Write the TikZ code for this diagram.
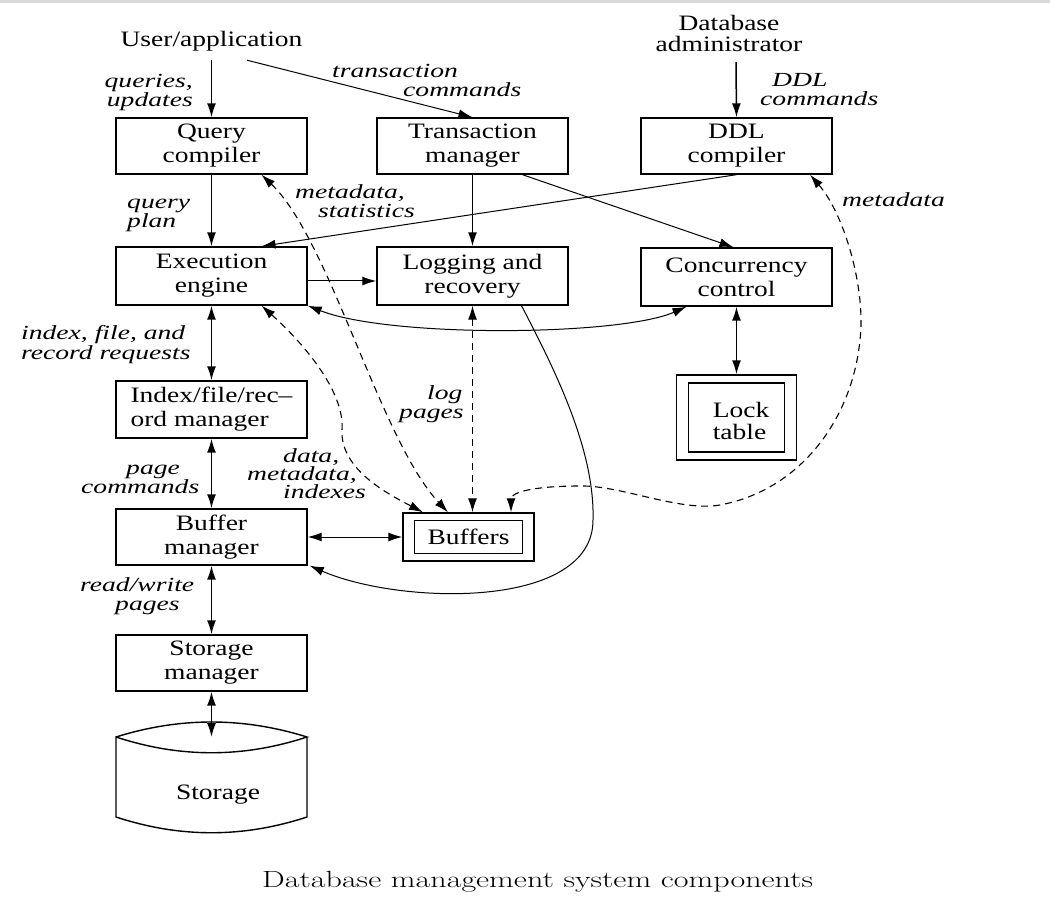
\documentclass[tikz,border=0pt]{standalone}
\usepackage{fontspec}
\setmainfont{Liberation Serif}[FakeStretch=1.25]
\newfontfamily\lblfamily{Liberation Serif}[FakeStretch=1.38]
\usepackage{graphicx}
\usetikzlibrary{arrows.meta}
\newcommand\bxfont{\fontsize{22}{24}\selectfont}
\newcommand\lbfont{\lblfamily\fontsize{20}{18}\selectfont\itshape}
\newcommand\capfont{\fontsize{23.4}{28}\fontfamily{lmr}\selectfont}

\begin{document}
\begin{tikzpicture}[x=1pt,y=-1pt,
  box/.style={draw, line width=1.4pt, minimum width=191pt, minimum height=56pt,
              inner sep=0pt, align=center, font=\bxfont},
  frame/.style={draw, line width=1.4pt},
  txt/.style={inner sep=0pt, align=center, font=\bxfont},
  lbl/.style={inner sep=0pt, font=\lbfont},
  onehead/.style={-{Latex[length=14pt,width=9pt]}},
  twohead/.style={{Latex[length=14pt,width=9pt]}-{Latex[length=14pt,width=9pt]}},
  heavy/.style={line width=1.5pt},
  fine/.style={line width=1pt},
  dsh/.style={dash pattern=on 7pt off 5pt, line width=1.1pt},
]
\useasboundingbox (0,0) rectangle (1050,904);
\fill[black!15] (0,0) rectangle (1050,3);

% actors
\node[txt, minimum height=38pt] (ua) at (211.5,41) {User/application};
\node[txt, font=\fontsize{22}{21}\selectfont, minimum height=58pt] (dba) at (729,33) {Database\\administrator};

% components
\node[box] (qc)  at (211.5,146) {Query\\compiler};
\node[box] (tm)  at (472.5,146) {Transaction\\manager};
\node[box] (ddl) at (736.5,146) {DDL\\compiler};
\node[box, minimum height=58pt] (ee) at (211.5,276) {Execution\\engine};
\node[box, minimum height=58pt] (lr) at (472.5,276) {Logging and\\recovery};
\node[box, minimum height=58pt] (cc) at (736.5,277) {Concurrency\\control};
\node[box, minimum height=57pt, align=left] (ifr) at (211.5,409.5) {Index/file/rec--\\ord manager};
\node[box] (bm) at (211.5,537) {Buffer\\manager};
\node[box] (sm) at (211.5,663) {Storage\\manager};

% buffers (double frame)
\node[frame, minimum width=131pt, minimum height=48pt] (buf) at (468.5,537) {};
\node[frame, minimum width=108.5pt, minimum height=32.5pt, txt] (bufin) at (468.5,537) {Buffers};

% lock table (double frame)
\node[frame, minimum width=120pt, minimum height=85pt] (lt) at (736.5,417.5) {};
\node[frame, minimum width=96pt, minimum height=69pt] (ltin) at (736.5,417.5) {};
\node[txt, align=left, font=\fontsize{22}{22}\selectfont] (lttxt) at (741,421) {Lock\\table};

% storage cylinder
\draw[line width=1.4pt] (116,737) .. controls (180,717) and (243,717) .. (307,737)
      .. controls (243,758) and (180,758) .. (116,737) -- (116,817)
      .. controls (180,838) and (243,838) .. (307,817) -- (307,737);
\coordinate (sttop) at (211.5,737);
\node[txt] (st) at (218,795) {Storage};

% solid connectors
\draw[onehead, heavy] (ua) -- (qc);
\draw[onehead, fine] ([xshift=35.5pt]ua.south) -- (tm.north);
\draw[onehead, heavy] ([xshift=7pt]dba.south) -- (ddl.north);
\draw[onehead, heavy] (qc) -- (ee);
\draw[onehead, heavy] (tm) -- (lr);
\draw[onehead, fine] (ddl.south) -- ([xshift=50pt]ee.north);
\draw[onehead, fine] ([xshift=50pt]tm.south) -- ([xshift=-3pt]cc.north);
\draw[onehead, fine] ([yshift=-5pt]ee.east) -- ([yshift=-5pt]lr.west);
\draw[twohead, fine] (ee.south east) .. controls (390,338) and (620,336) .. ([xshift=-50pt]cc.south);
\draw[twohead, heavy] (cc) -- (lt);
\draw[twohead, heavy] (ee) -- (ifr);
\draw[twohead, heavy] (ifr) -- (bm);
\draw[twohead, heavy] (bm) -- (sm);
\draw[twohead, heavy] (sm) -- (sttop);
\draw[twohead, fine] (bm.east) -- (buf.west);
\draw[onehead, fine] ([xshift=49pt]lr.south) .. controls (555,370) and (595,450) .. (593,520)
      .. controls (593,610) and (400,605) .. ([xshift=2pt]bm.south east);

% dashed connectors
\draw[twohead, dsh] ([xshift=50pt]qc.south) .. controls (330,240) and (380,440) .. ([xshift=-20.5pt]buf.north);
\draw[twohead, dsh] ([xshift=50pt]ee.south) .. controls (300,340) and (345,390) .. (342,430)
      .. controls (340,470) and (390,495) .. ([xshift=-45.5pt]buf.north);
\draw[twohead, dsh] (lr.south) -- (lr.south |- buf.north);
\draw[twohead, dsh] ([xshift=73.5pt]ddl.south) .. controls (845,215) and (866,290) .. (860,340)
      .. controls (852,420) and (800,490) .. (720,505)
      .. controls (680,512) and (620,485) .. (580,486)
      .. controls (535,486) and (511,492) .. ([xshift=42.5pt]buf.north);

% labels
\node[lbl, anchor=base east] (lq1) at (193,88) {queries,};
\node[lbl, anchor=base east] (lq2) at (193,107) {updates};
\node[lbl, anchor=base west] (lt1) at (332,78) {transaction};
\node[lbl, anchor=base west] (lt2) at (403,97) {commands};
\node[lbl, anchor=base west] (ld1) at (772,87) {DDL};
\node[lbl, anchor=base west] (ld2) at (760,106) {commands};
\node[lbl, anchor=base west] (lp1) at (127,209) {query};
\node[lbl, anchor=base west] (lp2) at (127,228) {plan};
\node[lbl, anchor=base west] (lm1) at (295,199) {metadata,};
\node[lbl, anchor=base west] (lm2) at (318,218) {statistics};
\node[lbl, anchor=base west] (lmd) at (842,207) {metadata};
\node[lbl, anchor=base west] (li1) at (21,339) {index, file, and};
\node[lbl, anchor=base west] (li2) at (21,359) {record requests};
\node[lbl, anchor=base west] (lg1) at (427,399) {log};
\node[lbl, anchor=base west] (lg2) at (399,418) {pages};
\node[lbl, anchor=base west] (lpc1) at (126,474) {page};
\node[lbl, anchor=base west] (lpc2) at (81,493) {commands};
\node[lbl, anchor=base west] (ldm1) at (283,462) {data,};
\node[lbl, anchor=base west] (ldm2) at (247,480) {metadata,};
\node[lbl, anchor=base west] (ldm3) at (283,498.5) {indexes};
\node[lbl, anchor=base west] (lrw1) at (80,591) {read/write};
\node[lbl, anchor=base west] (lrw2) at (115,610) {pages};

% caption
\node[inner sep=0pt, anchor=base west, font=\capfont] (cap) at (262,887)
  {\scalebox{1.37}[1]{Database management system components}};
\end{tikzpicture}
\end{document}
